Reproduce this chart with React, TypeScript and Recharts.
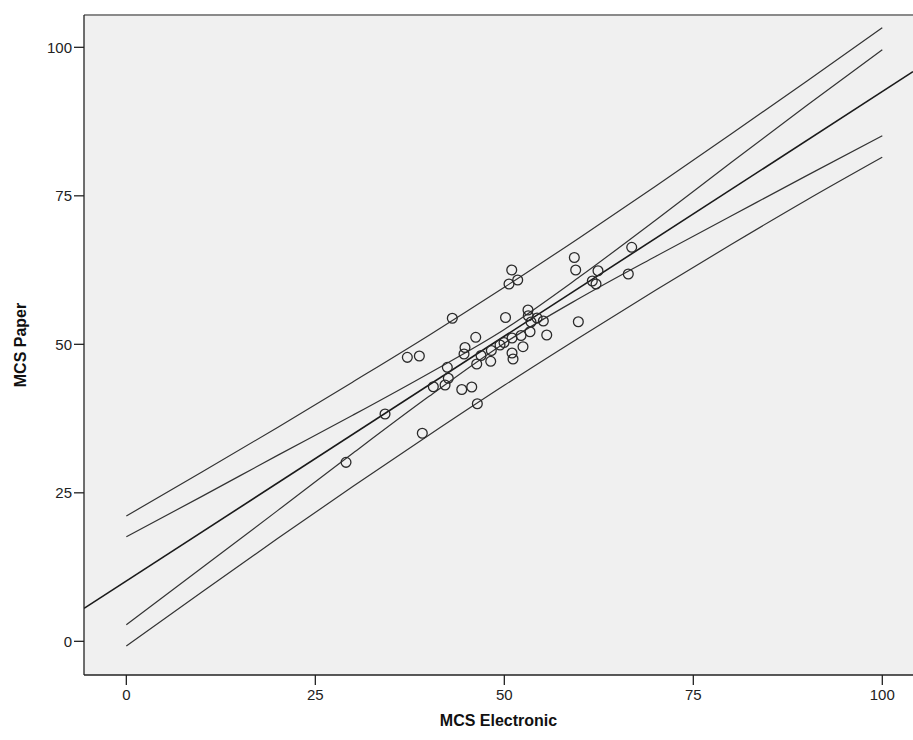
import { ComposedChart, Scatter, Line, XAxis, YAxis, CartesianGrid, ReferenceLine } from 'recharts';

// MCS scores: electronic (x) vs paper (y), one entry per respondent
const electronic = [
  29.06, 34.22, 39.15, 37.17, 38.76, 40.61, 42.16, 42.59, 42.46, 43.12,
  44.37, 44.8, 44.67, 45.69, 46.43, 46.22, 46.35, 46.92, 48.2, 48.28,
  49.43, 49.96, 50.16, 50.62, 50.98, 51.77, 51.02, 51.02, 51.15, 52.21,
  52.47, 53.4, 53.13, 53.17, 53.53, 54.33, 55.16, 55.61, 59.26, 59.44,
  59.79, 61.64, 62.13, 62.39, 66.4, 66.85,
];
const paper = [
  30.13, 38.27, 35.02, 47.81, 48.03, 42.86, 43.15, 44.28, 46.13, 54.38,
  42.39, 49.46, 48.37, 42.81, 40.0, 51.18, 46.68, 48.11, 47.14, 48.96,
  49.88, 50.3, 54.51, 60.15, 62.51, 60.82, 51.06, 48.54, 47.53, 51.48,
  49.6, 52.12, 55.77, 54.81, 53.75, 54.43, 53.92, 51.57, 64.61, 62.51,
  53.8, 60.66, 60.15, 62.39, 61.84, 66.33,
];

// fit line, drawn edge to edge
const fitX = [-5.6, 104.06];
const fitY = [5.55, 95.9];

const bandX = [0, 10, 20, 30, 40, 50, 60, 70, 80, 90, 100];
const meanUpper = [17.6, 24.4, 31.3, 38.1, 45.1, 52.5, 61.4, 70.9, 80.6, 90.2, 99.6];
const meanLower = [2.8, 12.4, 22.0, 31.7, 41.2, 50.2, 57.8, 64.8, 71.6, 78.4, 85.1];
const predUpper = [21.1, 28.5, 36.0, 43.7, 51.5, 59.6, 68.0, 76.6, 85.4, 94.3, 103.3];
const predLower = [-0.8, 8.3, 17.3, 26.1, 34.7, 43.1, 51.2, 59.1, 66.8, 74.3, 81.5];

const ticks = [0, 25, 50, 75, 100];

const points = electronic.map((x, i) => ({ x, y: paper[i] }));
const fitData = fitX.map((x, i) => ({ x, y: fitY[i] }));
const band = (vals: number[]) => bandX.map((x, i) => ({ x, y: vals[i] }));

const font = 'Liberation Sans, Arial, sans-serif';
const tickStyle = { fontSize: 15, fill: '#222', fontFamily: font };
const titleStyle = { fontSize: 16, fontWeight: 'bold', fill: '#111', fontFamily: font };

const Ring = (props: any) => (
  <circle cx={props.cx} cy={props.cy} r={4.9} fill="none" stroke="#2a2a2a" strokeWidth={1.3} />
);

export default function App() {
  return (
    <div style={{ position: 'absolute', left: 0, top: 0, width: 913, height: 740, background: '#fff', fontFamily: font }}>
      <ComposedChart width={913} height={740} margin={{ top: 15, right: 0, left: 0, bottom: 0 }}>
        <CartesianGrid horizontal={false} vertical={false} fill="#F0F0F0" fillOpacity={1} stroke="none" />
        <XAxis
          type="number"
          dataKey="x"
          domain={[-5.6, 104.06]}
          allowDataOverflow
          ticks={ticks}
          height={65}
          tickSize={10}
          tickMargin={4}
          stroke="#222"
          strokeWidth={1.3}
          fontSize={15}
          tick={tickStyle}
          label={{
            value: 'MCS Electronic',
            position: 'insideBottom',
            offset: 14,
            style: titleStyle,
          }}
        />
        <YAxis
          type="number"
          dataKey="y"
          domain={[-5.67, 105.44]}
          allowDataOverflow
          ticks={ticks}
          width={84}
          tickSize={10}
          tickMargin={2}
          stroke="#222"
          strokeWidth={1.3}
          fontSize={15}
          tick={tickStyle}
          label={{
            value: 'MCS Paper',
            angle: -90,
            position: 'insideLeft',
            offset: 20,
            style: { ...titleStyle, textAnchor: 'middle' },
          }}
        />
        <ReferenceLine y={105.44} stroke="#8a8a8a" strokeWidth={2} ifOverflow="visible" />
        <Line data={band(predUpper)} dataKey="y" type="monotone" stroke="#333" strokeWidth={1.2} dot={false} activeDot={false} isAnimationActive={false} />
        <Line data={band(meanUpper)} dataKey="y" type="monotone" stroke="#333" strokeWidth={1.2} dot={false} activeDot={false} isAnimationActive={false} />
        <Line data={fitData} dataKey="y" type="linear" stroke="#1a1a1a" strokeWidth={1.6} dot={false} activeDot={false} isAnimationActive={false} />
        <Line data={band(meanLower)} dataKey="y" type="monotone" stroke="#333" strokeWidth={1.2} dot={false} activeDot={false} isAnimationActive={false} />
        <Line data={band(predLower)} dataKey="y" type="monotone" stroke="#333" strokeWidth={1.2} dot={false} activeDot={false} isAnimationActive={false} />
        <Scatter data={points} dataKey="y" shape={Ring} isAnimationActive={false} />
      </ComposedChart>
    </div>
  );
}
